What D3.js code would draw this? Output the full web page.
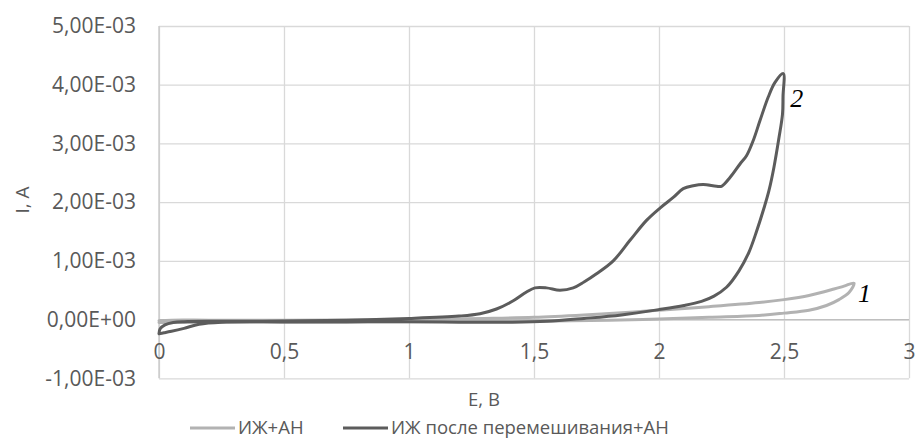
<!DOCTYPE html>
<html>
<head>
<meta charset="utf-8">
<script src="https://cdn.jsdelivr.net/npm/d3@7"></script>
<style>
  html, body { margin: 0; padding: 0; background: #fff; }
  svg { display: block; }
</style>
</head>
<body>
<svg id="chart" width="915" height="439"></svg>
<script>
// Potential (V) and current (A) along each cyclic voltammogram loop
const e1 = [0, 0.1, 0.25, 0.5, 1.0, 1.5, 1.8, 2.0, 2.2, 2.4, 2.5, 2.6, 2.67, 2.72, 2.76, 2.78,
            2.74, 2.7, 2.6, 2.5, 2.4, 2.2, 2.0, 1.9, 1.7, 1.5, 1.3, 1.0, 0.5, 0.2, 0.05, 0];
const i1 = [-0.00005, -0.00005, -0.000045, -0.00004, -0.000035, -0.00003, -0.00001, 0.00001, 0.00004, 0.00007,
            0.00011, 0.00016, 0.00024, 0.00034, 0.00046, 0.00062,
            0.00057, 0.00052, 0.00041, 0.00034, 0.00029, 0.00022, 0.00016, 0.00013, 0.00008, 0.00004,
            0.00002, 0.0, -0.00001, -0.00001, -0.00001, -0.00002];

const e2 = [0, 0.02, 0.05, 0.1, 0.16, 0.25, 0.5, 0.75, 1.0, 1.2, 1.4, 1.55, 1.7, 1.85, 2.0, 2.1,
            2.17, 2.22, 2.27, 2.32, 2.36, 2.39, 2.42, 2.44, 2.46, 2.48, 2.494, 2.496, 2.497,
            2.464, 2.437, 2.404, 2.377, 2.35, 2.324, 2.284, 2.25, 2.23, 2.177, 2.137, 2.097, 2.057,
            2.004, 1.95, 1.884, 1.817, 1.75, 1.70, 1.657, 1.604, 1.55, 1.504, 1.47, 1.417, 1.35,
            1.284, 1.2, 1.0, 0.75, 0.5, 0.25, 0.1, 0.057, 0.024, 0.004, 0];
const i2 = [-0.00024, -0.000225, -0.0002, -0.00015, -0.00008, -0.000045, -0.00004, -0.00004, -0.000035,
            -0.000045, -0.000045, -0.00003, 0.00002, 0.00008, 0.00017, 0.00024,
            0.00031, 0.0004, 0.00055, 0.00083, 0.00115, 0.0015, 0.0019, 0.0022, 0.0026, 0.0031, 0.0035,
            0.0038, 0.00419,
            0.00404, 0.00379, 0.00339, 0.00305, 0.00279, 0.00265, 0.00242, 0.00227, 0.00227, 0.0023, 0.00228,
            0.00223, 0.00208, 0.0019, 0.00169, 0.00135, 0.001, 0.00078, 0.00064, 0.00054, 0.0005, 0.00054,
            0.00054, 0.00047, 0.00032, 0.00018, 0.0001, 0.00006, 0.00002, -0.00001, -0.000025, -0.00003,
            -0.000035, -0.00005, -0.00009, -0.00016, -0.00024];

const xTicks = [0, 0.5, 1, 1.5, 2, 2.5, 3];
const yTicks = [-0.001, 0, 0.001, 0.002, 0.003, 0.004, 0.005];
const seriesNames = ["ИЖ+АН", "ИЖ после перемешивания+АН"];
const seriesColors = ["#b2b2b2", "#5c5c5c"];
const curveLabels = ["1", "2"];

const svg = d3.select("#chart");
const plotLeft = 159, plotRight = 909, plotTop = 26, plotBottom = 378.3;
const sans = "'Open Sans', sans-serif";
const textColor = "#595959";

const x = d3.scaleLinear().domain([0, 3]).range([plotLeft, plotRight]);
const y = d3.scaleLinear().domain([-0.001, 0.005]).range([plotBottom, plotTop]);

const fmtY = v => {
  if (v === 0) return "0,00E+00";
  const [m, ex] = v.toExponential(2).split("e");
  const n = parseInt(ex, 10);
  const exp = (n < 0 ? "-" : "+") + String(Math.abs(n)).padStart(2, "0");
  return m.replace(".", ",") + "E" + exp;
};
const fmtX = v => String(v).replace(".", ",");

// gridlines
svg.append("g")
  .attr("transform", `translate(${plotLeft},0)`)
  .call(d3.axisLeft(y).tickValues(yTicks).tickSize(-(plotRight - plotLeft)).tickFormat(""))
  .call(g => g.select(".domain").remove())
  .call(g => g.selectAll("line").attr("stroke", "#d9d9d9").attr("stroke-width", 1.3));
svg.append("g")
  .attr("transform", `translate(0,${plotBottom})`)
  .call(d3.axisBottom(x).tickValues(xTicks).tickSize(-(plotBottom - plotTop)).tickFormat(""))
  .call(g => g.select(".domain").remove())
  .call(g => g.selectAll("line").attr("stroke", "#d9d9d9").attr("stroke-width", 1.3));

// y axis line along E = 0, x axis line along I = 0
svg.append("line").attr("x1", x(0)).attr("x2", x(0)).attr("y1", plotTop).attr("y2", plotBottom)
  .attr("stroke", "#c8c8c8").attr("stroke-width", 1.3);
svg.append("line").attr("x1", plotLeft).attr("x2", plotRight).attr("y1", y(0)).attr("y2", y(0))
  .attr("stroke", "#bfbfbf").attr("stroke-width", 1.3);

// tick labels
const yAxis = svg.append("g")
  .attr("transform", `translate(${plotLeft},0)`)
  .call(d3.axisLeft(y).tickValues(yTicks).tickSize(0).tickPadding(23).tickFormat(fmtY));
yAxis.select(".domain").remove();
yAxis.selectAll("text").style("font-family", sans).style("font-size", "21px").style("fill", textColor);

const xAxis = svg.append("g")
  .attr("transform", `translate(0,${y(0)})`)
  .call(d3.axisBottom(x).tickValues(xTicks).tickSize(0).tickPadding(39).tickFormat(fmtX));
xAxis.select(".domain").remove();
xAxis.selectAll("text").attr("dy", "0")
  .style("font-family", sans).style("font-size", "21px").style("fill", textColor);

// axis titles
svg.append("text").attr("x", 484).attr("y", 406).attr("text-anchor", "middle")
  .style("font-family", sans).style("font-size", "18.5px").style("fill", textColor).text("E, В");
svg.append("text").attr("transform", "translate(29,200) rotate(-90)").attr("text-anchor", "middle")
  .style("font-family", sans).style("font-size", "19px").style("fill", textColor).text("I, А");

// curves
const line = d3.line().x(d => x(d[0])).y(d => y(d[1])).curve(d3.curveCatmullRom.alpha(0.5));
const series = [d3.zip(e1, i1), d3.zip(e2, i2)];
series.forEach((pts, k) => {
  svg.append("path").datum(pts).attr("d", line)
    .attr("fill", "none").attr("stroke", seriesColors[k]).attr("stroke-width", 3)
    .attr("stroke-linejoin", "round").attr("stroke-linecap", "round");
});

// curve numbers beside the turning points
const tip1 = [e1[15], i1[15]];
const tip2 = [e2[28], i2[28]];
svg.append("text").attr("x", x(tip1[0]) + 4).attr("y", y(tip1[1]) + 19)
  .style("font-family", "'Liberation Serif', serif").style("font-style", "italic").style("font-size", "26px")
  .style("fill", "#000").text(curveLabels[0]);
svg.append("text").attr("x", x(tip2[0]) + 7).attr("y", y(tip2[1]) + 33)
  .style("font-family", "'Liberation Serif', serif").style("font-style", "italic").style("font-size", "26px")
  .style("fill", "#000").text(curveLabels[1]);

// legend
const legendItems = [{ x: 190, w: 45 }, { x: 343, w: 45 }];
legendItems.forEach((it, k) => {
  svg.append("line").attr("x1", it.x).attr("x2", it.x + it.w).attr("y1", 428).attr("y2", 428)
    .attr("stroke", seriesColors[k]).attr("stroke-width", 3);
  svg.append("text").attr("x", it.x + it.w + 3).attr("y", 434)
    .style("font-family", sans).style("font-size", "18.5px").style("fill", textColor).text(seriesNames[k]);
});
</script>
</body>
</html>
